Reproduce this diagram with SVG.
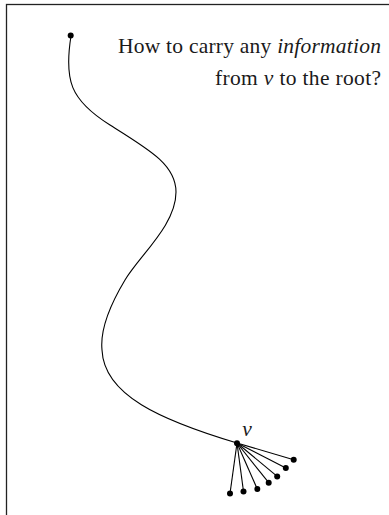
<svg xmlns="http://www.w3.org/2000/svg" width="389" height="515" viewBox="0 0 389 515">
<style>
.edge{fill:none;stroke:#000;stroke-width:1.1}
.dot{fill:#000}
.txt{font-family:"Liberation Serif","DejaVu Serif",serif;font-size:21.5px;fill:#1a1a1a}
.it{font-style:italic}
</style>
<rect x="6.5" y="4.5" width="400" height="530" fill="#fff" stroke="#222" stroke-width="1.3"/>
<g id="connectors">
<path class="edge" d="M71,36 C64,80 70,100 110,125 C150,150 176,165 176,192 C176,225 140,255 125,280 C110,305 100,330 102,350 C104,395 160,420 237,443"/>
<line class="edge" x1="237" y1="443" x2="230" y2="493.5"/>
<line class="edge" x1="237" y1="443" x2="243.5" y2="491.5"/>
<line class="edge" x1="237" y1="443" x2="257.3" y2="489"/>
<line class="edge" x1="237" y1="443" x2="268.7" y2="482.7"/>
<line class="edge" x1="237" y1="443" x2="277.2" y2="476.4"/>
<line class="edge" x1="237" y1="443" x2="285.8" y2="468"/>
<line class="edge" x1="237" y1="443" x2="293.7" y2="459.8"/>
</g>
<g id="root"><circle class="dot" cx="70.7" cy="35.5" r="3"/></g>
<g id="v"><circle class="dot" cx="237" cy="443.2" r="3"/><text class="txt it" x="247" y="436" text-anchor="middle" font-size="19">v</text></g>
<g id="leaves">
<circle class="dot" cx="230" cy="493.5" r="3"/>
<circle class="dot" cx="243.5" cy="491.5" r="3"/>
<circle class="dot" cx="257.3" cy="489" r="3"/>
<circle class="dot" cx="268.7" cy="482.7" r="3"/>
<circle class="dot" cx="277.2" cy="476.4" r="3"/>
<circle class="dot" cx="285.8" cy="468" r="3"/>
<circle class="dot" cx="293.7" cy="459.8" r="3"/>
</g>
<g id="caption">
<text class="txt" x="118" y="53" textLength="263" lengthAdjust="spacing">How to carry any <tspan class="it">information</tspan></text>
<text class="txt" x="215" y="85" textLength="166" lengthAdjust="spacing">from <tspan class="it">v</tspan> to the root?</text>
</g>
</svg>
